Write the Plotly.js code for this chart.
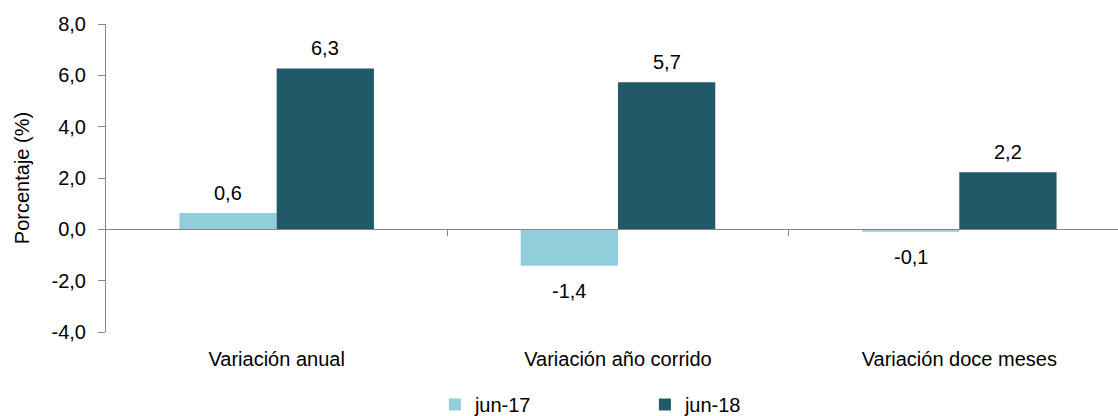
<!DOCTYPE html>
<html>
<head>
<meta charset="utf-8">
<script src="https://cdn.plot.ly/plotly-3.0.1.min.js"></script>
<style>html,body{margin:0;padding:0;background:#fff;}</style>
</head>
<body>
<div id="chart" style="width:1118px;height:416px;"></div>
<script>
const categories = ['Variación anual', 'Variación año corrido', 'Variación doce meses'];
const seriesNames = ['jun-17', 'jun-18'];
const jun17 = [0.64, -1.42, -0.09];
const jun18 = [6.27, 5.73, 2.22];
const yTickVals = [-4, -2, 0, 2, 4, 6, 8];
const yTickText = ['-4,0', '-2,0', '0,0', '2,0', '4,0', '6,0', '8,0'];
const boundaryTicks = [0.5, 1.5, 2.5];
const colors = ['#92CDDC', '#215968'];

const FONT = 'Liberation Sans, Arial, sans-serif';
const W = 1118, H = 416;
const margin = {l: 106, r: 0, t: 24, b: 84, pad: 0, autoexpand: false};
const yRange = [-4, 8];
const xRange = [-0.5, 2.465];
const bargap = 0.43;
const axisGray = '#868686';

const series = [jun17, jun18];
const traces = series.map((vals, i) => ({
  type: 'bar',
  name: seriesNames[i],
  x: categories,
  y: vals,
  marker: {color: colors[i], line: {width: 0}},
  hoverinfo: 'skip'
}));
traces.push({type: 'scatter', x: [], y: [], xaxis: 'x2', yaxis: 'y', showlegend: false, hoverinfo: 'skip'});

const plotW = W - margin.l - margin.r;
const plotH = H - margin.t - margin.b;
const catPx = plotW / (xRange[1] - xRange[0]);
const barPx = catPx * (1 - bargap) / series.length;
const fmt = v => v.toFixed(1).replace('.', ',');

const annotations = [];
series.forEach((vals, i) => {
  vals.forEach((v, j) => {
    annotations.push({
      x: categories[j], y: v, xref: 'x', yref: 'y',
      text: fmt(v), showarrow: false,
      xshift: (i - (series.length - 1) / 2) * barPx,
      yanchor: v >= 0 ? 'bottom' : 'top',
      yshift: v >= 0 ? 7 : -12,
      font: {family: FONT, size: 20, color: '#000'}
    });
  });
});

const layout = {
  width: W, height: H,
  margin: margin,
  paper_bgcolor: '#fff', plot_bgcolor: '#fff',
  font: {family: FONT, size: 20, color: '#000'},
  barmode: 'group', bargap: bargap, bargroupgap: 0,
  showlegend: true,
  legend: {
    orientation: 'h', xref: 'paper', x: 0.325, xanchor: 'left',
    yref: 'paper', y: -(margin.b + 8) / plotH, yanchor: 'bottom',
    font: {family: FONT, size: 20, color: '#000'},
    entrywidth: 165, entrywidthmode: 'pixels', traceorder: 'normal'
  },
  xaxis: {
    type: 'category', range: xRange, showline: false, showgrid: false, zeroline: false,
    ticks: 'outside', ticklen: 9, tickcolor: 'rgba(0,0,0,0)', automargin: false,
    tickfont: {family: FONT, size: 20, color: '#000'}, fixedrange: true
  },
  xaxis2: {
    type: 'linear', overlaying: 'x', anchor: 'free',
    position: (0 - yRange[0]) / (yRange[1] - yRange[0]),
    range: xRange, showline: true, linecolor: axisGray, linewidth: 1,
    ticks: 'outside', ticklen: 6, tickcolor: axisGray, tickwidth: 1,
    tickmode: 'array', tickvals: boundaryTicks, showticklabels: false,
    showgrid: false, zeroline: false, fixedrange: true, automargin: false
  },
  yaxis: {
    range: yRange, showline: true, linecolor: axisGray, linewidth: 1,
    ticks: 'outside', ticklen: 7, tickcolor: axisGray, tickwidth: 1,
    tickmode: 'array', tickvals: yTickVals, ticktext: yTickText,
    ticklabelstandoff: 8, automargin: false,
    showgrid: false, zeroline: false,
    tickfont: {family: FONT, size: 20, color: '#000'},
    title: {text: 'Porcentaje (%)', font: {family: FONT, size: 20, color: '#000'}, standoff: 16},
    fixedrange: true
  },
  annotations: annotations
};

Plotly.newPlot('chart', traces, layout, {displayModeBar: false, staticPlot: true});
</script>
</body>
</html>
